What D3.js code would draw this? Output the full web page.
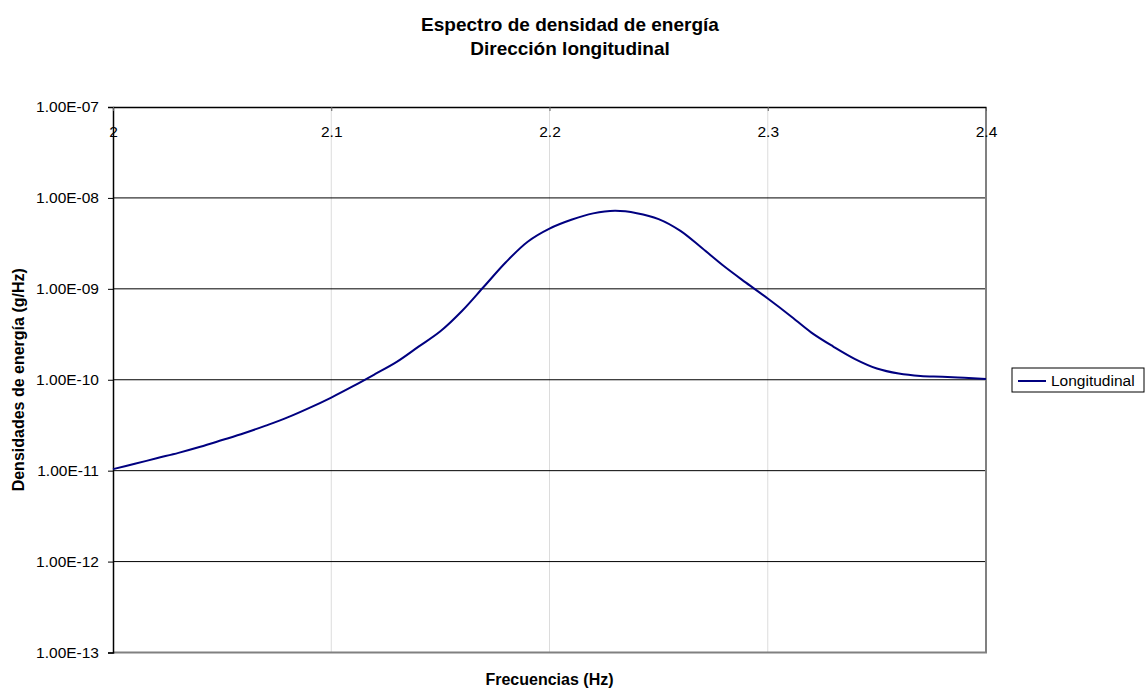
<!DOCTYPE html>
<html>
<head>
<meta charset="utf-8">
<style>
  body { margin: 0; background: #fff; }
  svg { display: block; font-family: "Liberation Sans", Arial, sans-serif; }
  .title { font-size: 19px; font-weight: bold; }
  .axis-title { font-size: 16px; font-weight: bold; }
  .tick-label { font-size: 15.5px; fill: #000; }
</style>
</head>
<body>
<div id="chart"></div>
<script src="https://d3js.org/d3.v7.min.js"></script>
<script>
  // Frequencies (Hz), step 0.01
  const freqs = [
    2.00, 2.01, 2.02, 2.03, 2.04, 2.05, 2.06, 2.07, 2.08, 2.09,
    2.10, 2.11, 2.12, 2.13, 2.14, 2.15, 2.16, 2.17, 2.18, 2.19,
    2.20, 2.21, 2.22, 2.23, 2.24, 2.25, 2.26, 2.27, 2.28, 2.29,
    2.30, 2.31, 2.32, 2.33, 2.34, 2.35, 2.36, 2.37, 2.38, 2.39, 2.40
  ];

  // Longitudinal energy density (g/Hz)
  const longitudinal = [
    1.04e-11, 1.19e-11, 1.37e-11, 1.57e-11, 1.83e-11, 2.17e-11, 2.58e-11, 3.13e-11, 3.85e-11, 4.90e-11,
    6.37e-11, 8.49e-11, 1.15e-10, 1.57e-10, 2.31e-10, 3.41e-10, 5.74e-10, 1.06e-9, 1.96e-9, 3.30e-9,
    4.60e-9, 5.75e-9, 6.76e-9, 7.21e-9, 6.80e-9, 5.85e-9, 4.34e-9, 2.79e-9, 1.77e-9, 1.17e-9,
    7.82e-10, 5.13e-10, 3.30e-10, 2.32e-10, 1.69e-10, 1.33e-10, 1.17e-10, 1.10e-10, 1.08e-10, 1.05e-10,
    1.02e-10
  ];

  const xTicks = [2, 2.1, 2.2, 2.3, 2.4];
  const yTicks = [1e-7, 1e-8, 1e-9, 1e-10, 1e-11, 1e-12, 1e-13];

  const width = 1146;
  const height = 688;
  const margin = { top: 107, right: 160, bottom: 35.5, left: 113 };

  const svg = d3.select('#chart')
    .append('svg')
    .attr('width', width)
    .attr('height', height);

  const x = d3.scaleLinear()
    .domain([2, 2.4])
    .range([margin.left, width - margin.right]);

  const y = d3.scaleLog()
    .domain([1e-13, 1e-7])
    .range([height - margin.bottom, margin.top]);

  // format like Excel: 1.00E-07
  function fmtE(v) {
    const e = Math.floor(Math.log10(v) + 1e-9);
    const m = v / Math.pow(10, e);
    return m.toFixed(2) + 'E' + (e < 0 ? '-' : '+') + String(Math.abs(e)).padStart(2, '0');
  }

  // vertical gridlines (light grey)
  svg.append('g')
    .selectAll('line')
    .data(xTicks.slice(1, -1))
    .join('line')
    .attr('x1', d => x(d)).attr('x2', d => x(d))
    .attr('y1', margin.top).attr('y2', height - margin.bottom)
    .attr('stroke', '#dcdcdc')
    .attr('stroke-width', 1);

  // horizontal gridlines (black)
  svg.append('g')
    .selectAll('line')
    .data(yTicks.slice(1, -1))
    .join('line')
    .attr('x1', margin.left).attr('x2', width - margin.right)
    .attr('y1', d => y(d)).attr('y2', d => y(d))
    .attr('stroke', '#000')
    .attr('stroke-width', 1);

  // plot border right / bottom (grey)
  svg.append('path')
    .attr('d', `M${x(2.4)},${y(1e-7)}V${y(1e-13)}H${x(2)}`)
    .attr('fill', 'none')
    .attr('stroke', '#808080')
    .attr('stroke-width', 2);

  // y axis
  const yAxis = d3.axisLeft(y)
    .tickValues(yTicks)
    .tickFormat(fmtE)
    .tickSize(5)
    .tickPadding(9);
  const gy = svg.append('g')
    .attr('transform', `translate(${margin.left}, 0)`)
    .call(yAxis);
  gy.select('.domain').attr('stroke', '#000').attr('stroke-width', 1.5);
  gy.selectAll('.tick line').attr('stroke', '#000');
  gy.selectAll('.tick text')
    .attr('class', 'tick-label')
    .attr('font-family', null)
    .attr('font-size', null);

  // x axis on top (crosses at 1E-07)
  const xAxis = d3.axisBottom(x)
    .tickValues(xTicks)
    .tickFormat(d3.format('.1~f'))
    .tickSize(4)
    .tickSizeOuter(0)
    .tickPadding(15);
  const gx = svg.append('g')
    .attr('transform', `translate(0, ${margin.top})`)
    .call(xAxis);
  gx.select('.domain').attr('stroke', '#000').attr('stroke-width', 1.5);
  gx.selectAll('.tick line').attr('stroke', '#606060');
  gx.selectAll('.tick text')
    .attr('class', 'tick-label')
    .attr('font-family', null)
    .attr('font-size', null);

  // data line
  const line = d3.line()
    .x((d, i) => x(freqs[i]))
    .y(d => y(d))
    .curve(d3.curveCatmullRom.alpha(0.5));

  svg.append('path')
    .datum(longitudinal)
    .attr('fill', 'none')
    .attr('stroke', '#000080')
    .attr('stroke-width', 2)
    .attr('d', line);

  // titles
  svg.append('text')
    .attr('class', 'title')
    .attr('x', 570).attr('y', 31)
    .attr('text-anchor', 'middle')
    .text('Espectro de densidad de energía');
  svg.append('text')
    .attr('class', 'title')
    .attr('x', 570).attr('y', 55)
    .attr('text-anchor', 'middle')
    .text('Dirección longitudinal');

  svg.append('text')
    .attr('class', 'axis-title')
    .attr('x', (margin.left + width - margin.right) / 2)
    .attr('y', 685)
    .attr('text-anchor', 'middle')
    .text('Frecuencias (Hz)');

  svg.append('text')
    .attr('class', 'axis-title')
    .attr('transform', `translate(24, ${(margin.top + height - margin.bottom) / 2}) rotate(-90)`)
    .attr('text-anchor', 'middle')
    .text('Densidades de energía (g/Hz)');

  // legend
  const legend = svg.append('g').attr('transform', 'translate(1012, 368)');
  legend.append('rect')
    .attr('width', 132).attr('height', 24)
    .attr('fill', '#fff')
    .attr('stroke', '#000')
    .attr('stroke-width', 1);
  legend.append('line')
    .attr('x1', 6).attr('x2', 34)
    .attr('y1', 13).attr('y2', 13)
    .attr('stroke', '#000080')
    .attr('stroke-width', 2);
  legend.append('text')
    .attr('class', 'tick-label')
    .attr('x', 39).attr('y', 18)
    .text('Longitudinal');
</script>
</body>
</html>
